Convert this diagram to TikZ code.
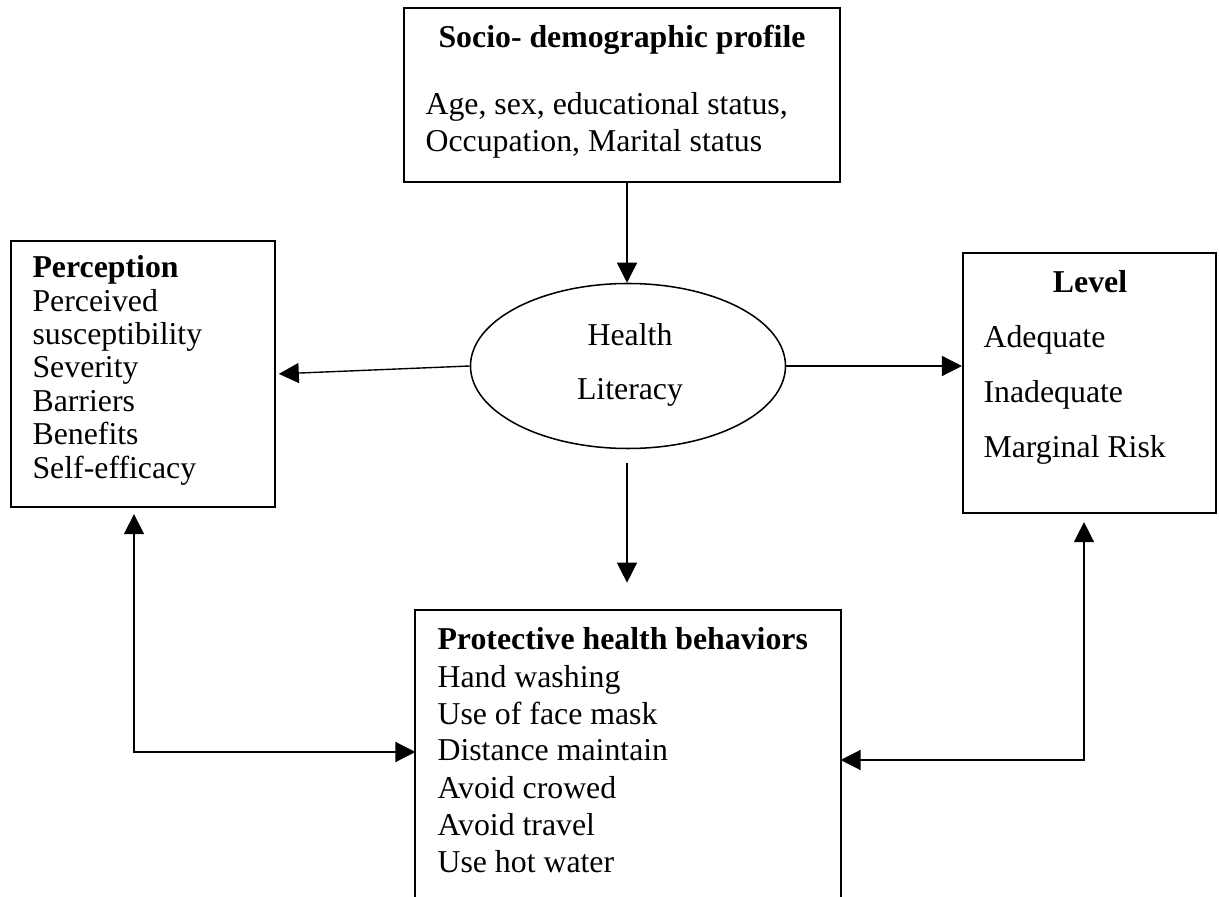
\documentclass[tikz,border=0pt]{standalone}
\usepackage{fontspec}
\setmainfont{Liberation Serif}
\usetikzlibrary{arrows.meta,fit,shapes.geometric}
\begin{document}
\begin{tikzpicture}[x=0.36pt,y=-0.36pt,
  boxline/.style={draw=black,line width=0.75pt,inner sep=0pt},
  arr/.style={line width=0.5pt,-{Triangle[length=7.2pt,width=7.2pt]}},
  arrboth/.style={line width=0.5pt,{Triangle[length=7.2pt,width=7.2pt]}-{Triangle[length=7.2pt,width=7.2pt]}},
  txt/.style={anchor=base west,inner sep=0pt,font=\fontsize{11.45}{14}\selectfont},
  ctxt/.style={anchor=base,inner sep=0pt,font=\fontsize{11.45}{14}\selectfont},
  btxt/.style={anchor=base,inner sep=0pt,font=\fontsize{11.45}{14}\selectfont\bfseries},
  bltxt/.style={anchor=base west,inner sep=0pt,font=\fontsize{11.45}{14}\selectfont\bfseries}]
\useasboundingbox (0,0) rectangle (1219,897);

% boxes
\node[boxline,fit={(404,8) (840,182)}] (socio) {};
\node[boxline,fit={(11,241) (275,507)}] (perc) {};
\node[boxline,fit={(963,253) (1216,513)}] (lvl) {};
\node[inner sep=0pt,fit={(416,611) (840,897)}] (beh) {};
\draw[line width=0.75pt] (beh.south west) -- (beh.north west) -- (beh.north east) -- (beh.south east);
\node[ellipse,draw,line width=0.55pt,minimum width=315*0.36pt,minimum height=165*0.36pt,inner sep=0pt] (hl) at (628,366) {};

% texts
\node[btxt] (t1) at (622,48) {Socio- demographic profile};
\node[txt] (t2) at (425,115) {Age, sex, educational status,};
\node[txt] (t3) at (425,152) {Occupation, Marital status};

\node[bltxt] (p0) at (32,278) {Perception};
\node[txt] (p1) at (32,311.7) {Perceived};
\node[txt] (p2) at (32,345) {susceptibility};
\node[txt] (p3) at (32,378) {Severity};
\node[txt] (p4) at (32,411.7) {Barriers};
\node[txt] (p5) at (32,445) {Benefits};
\node[txt] (p6) at (32,478.3) {Self-efficacy};

\node[btxt] (l0) at (1090,293) {Level};
\node[txt] (l1) at (983,348) {Adequate};
\node[txt] (l2) at (983,403) {Inadequate};
\node[txt] (l3) at (983,458) {Marginal Risk};

\node[ctxt] (h1) at (630,346) {Health};
\node[ctxt] (h2) at (630,400) {Literacy};

\node[bltxt] (b0) at (437,650) {Protective health behaviors};
\node[txt] (b1) at (437,687) {Hand washing};
\node[txt] (b2) at (437,724) {Use of face mask};
\node[txt] (b3) at (437,761) {Distance maintain};
\node[txt] (b4) at (437,798) {Avoid crowed};
\node[txt] (b5) at (437,835) {Avoid travel};
\node[txt] (b6) at (437,872) {Use hot water};

% helper coordinates
\coordinate (lx) at (134,0);
\coordinate (ly) at (0,752);
\coordinate (rx) at (1084,0);
\coordinate (ry) at (0,760);
\coordinate (ax) at (627,0);

% connectors
\draw[arr] (socio.south -| ax) -- (hl.north -| ax);
\draw[arr,shorten >=1pt] (hl.west) -- (perc.east);
\draw[arr] (hl.east) -- (lvl.west |- hl.east);
\draw[arr,shorten <=5pt,shorten >=10pt] (hl.south -| ax) -- (beh.north -| ax);
\draw[arrboth,shorten <=2.2pt] (perc.south -| lx) |- (beh.west |- ly);
\draw[arrboth,shorten <=2.9pt] (lvl.south -| rx) |- (beh.east |- ry);
\end{tikzpicture}
\end{document}
